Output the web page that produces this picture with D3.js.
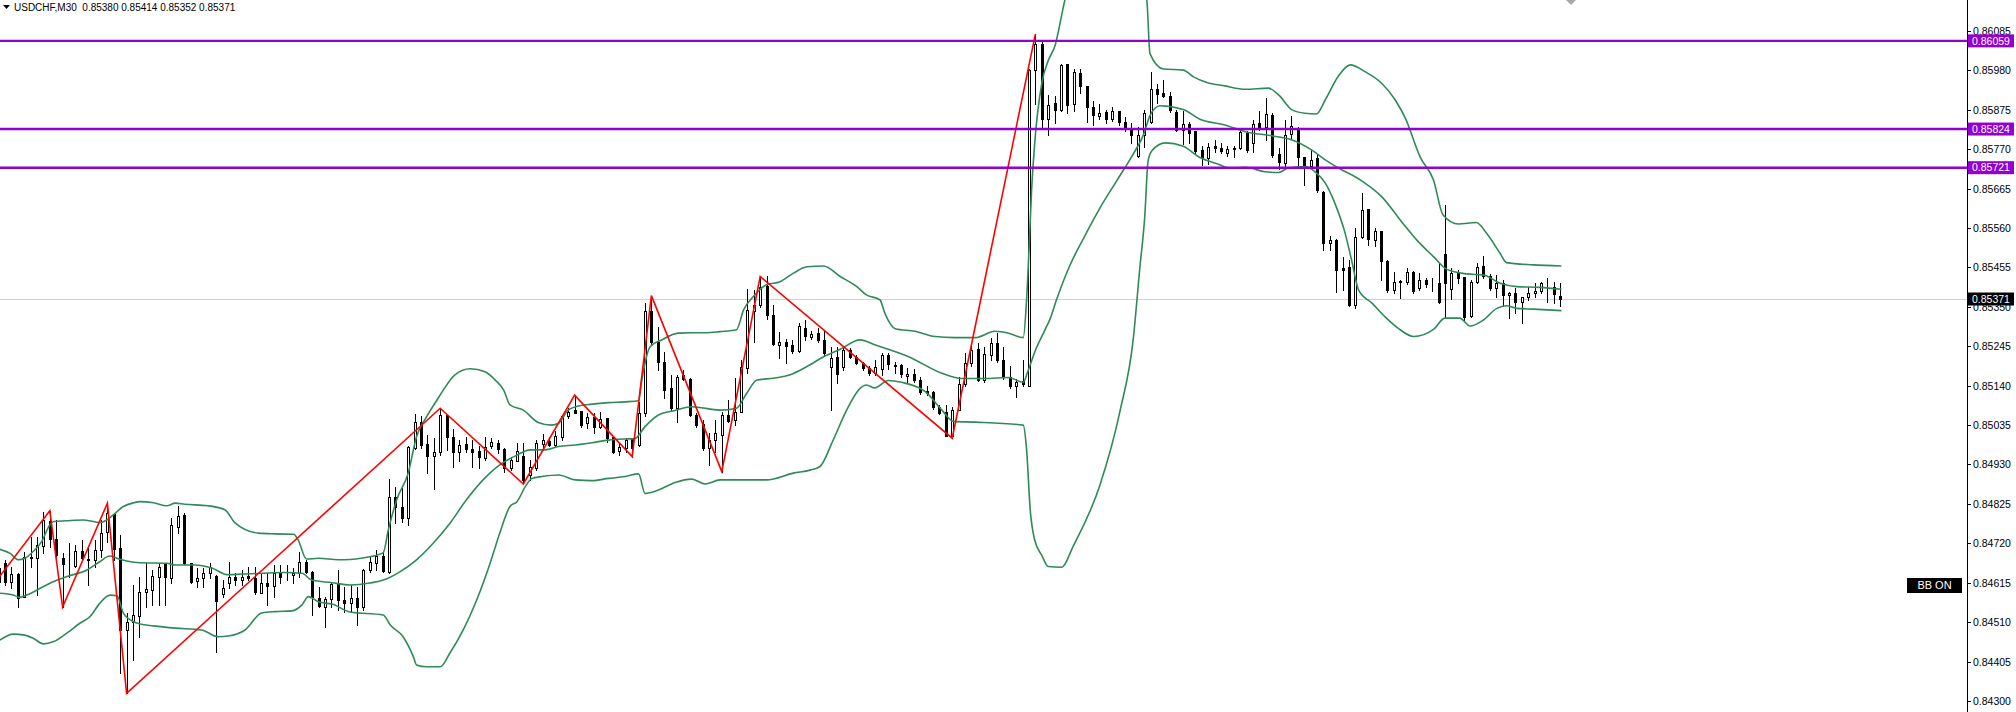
<!DOCTYPE html>
<html><head><meta charset="utf-8">
<script src="https://cdn.jsdelivr.net/npm/d3@7"></script>
<style>html,body{margin:0;padding:0;background:#fff;overflow:hidden}</style>
</head><body>
<svg id="chart" width="2016" height="712"></svg>
<script>
// ---------------- data ----------------
const symbolTitle = "USDCHF,M30";
const lastQuote = ["0.85380", "0.85414", "0.85352", "0.85371"];
const currentPrice = 0.85371;
const levels = [0.86059, 0.85824, 0.85721];
const tickLabels = ["0.86085","0.85980","0.85875","0.85770","0.85665","0.85560","0.85455","0.85350","0.85245","0.85140","0.85035","0.84930","0.84825","0.84720","0.84615","0.84510","0.84405","0.84300"];

const open = [
0.84617,0.84668,0.84618,0.84638,0.84578,0.84681,0.84680,0.84714,0.84780,0.84731,
0.84680,0.84662,0.84660,0.84700,0.84678,0.84676,0.84702,0.84751,0.84797,0.84707,
0.84489,0.84509,0.84525,0.84590,0.84596,0.84631,0.84665,0.84627,0.84764,0.84796,
0.84667,0.84620,0.84627,0.84640,0.84633,0.84584,0.84614,0.84631,0.84622,0.84633,
0.84628,0.84588,0.84615,0.84606,0.84640,0.84638,0.84636,0.84642,0.84671,0.84644,
0.84575,0.84551,0.84571,0.84611,0.84569,0.84560,0.84574,0.84551,0.84649,0.84668,
0.84686,0.84644,0.84843,0.84818,0.84787,0.84973,0.85044,0.84984,0.84953,0.84963,
0.85062,0.85004,0.84962,0.84985,0.84972,0.84967,0.84948,0.84978,0.84987,0.84971,
0.84920,0.84940,0.84953,0.84902,0.84920,0.84985,0.84993,0.84982,0.85004,0.85058,
0.85075,0.85073,0.85040,0.85056,0.85031,0.85053,0.85002,0.84967,0.84973,0.84997,
0.84982,0.85067,0.85340,0.85257,0.85204,0.85133,0.85080,0.85169,0.85157,0.85062,
0.85038,0.84973,0.84995,0.85009,0.85062,0.85049,0.85071,0.85187,0.85340,0.85355,
0.85406,0.85329,0.85249,0.85257,0.85249,0.85233,0.85293,0.85271,0.85280,0.85262,
0.85189,0.85216,0.85189,0.85235,0.85216,0.85200,0.85188,0.85173,0.85184,0.85223,
0.85194,0.85195,0.85166,0.85172,0.85156,0.85126,0.85124,0.85084,0.85070,0.85007,
0.85076,0.85144,0.85201,0.85238,0.85154,0.85223,0.85255,0.85208,0.85164,0.85139,
0.85152,0.85139,0.85981,0.86050,0.85852,0.85893,0.85876,0.85996,0.85891,0.85973,
0.85938,0.85883,0.85858,0.85869,0.85852,0.85871,0.85842,0.85828,0.85753,0.85807,
0.85842,0.85932,0.85920,0.85912,0.85869,0.85822,0.85838,0.85818,0.85768,0.85748,
0.85780,0.85773,0.85760,0.85772,0.85773,0.85814,0.85788,0.85839,0.85830,0.85862,
0.85758,0.85734,0.85811,0.85826,0.85749,0.85726,0.85746,0.85657,0.85521,0.85528,
0.85453,0.85456,0.85355,0.85537,0.85610,0.85528,0.85551,0.85471,0.85395,0.85418,
0.85417,0.85444,0.85400,0.85422,0.85415,0.85415,0.85491,0.85397,0.85441,0.85429,
0.85326,0.85417,0.85459,0.85432,0.85400,0.85413,0.85382,0.85386,0.85364,0.85376,
0.85386,0.85393,0.85410,0.85404,0.85380];

const high = [
0.84676,0.84676,0.84658,0.84640,0.84698,0.84738,0.84738,0.84804,0.84807,0.84782,
0.84694,0.84720,0.84716,0.84729,0.84711,0.84729,0.84782,0.84827,0.84802,0.84742,
0.84534,0.84609,0.84631,0.84667,0.84649,0.84667,0.84667,0.84787,0.84820,0.84800,
0.84667,0.84654,0.84654,0.84667,0.84635,0.84622,0.84670,0.84640,0.84649,0.84658,
0.84658,0.84640,0.84640,0.84662,0.84662,0.84662,0.84654,0.84698,0.84676,0.84646,
0.84604,0.84576,0.84618,0.84649,0.84604,0.84609,0.84604,0.84651,0.84684,0.84702,
0.84698,0.84891,0.84869,0.84867,0.84978,0.85065,0.85058,0.85009,0.85000,0.85080,
0.85065,0.85024,0.84995,0.85003,0.84995,0.84978,0.85003,0.85000,0.84995,0.84973,
0.84947,0.84987,0.84987,0.84942,0.84995,0.85011,0.85004,0.85018,0.85062,0.85080,
0.85115,0.85073,0.85067,0.85067,0.85071,0.85055,0.85004,0.84987,0.85000,0.85000,
0.85097,0.85360,0.85380,0.85297,0.85231,0.85169,0.85169,0.85182,0.85160,0.85067,
0.85049,0.85013,0.85049,0.85071,0.85102,0.85160,0.85209,0.85397,0.85395,0.85431,
0.85432,0.85355,0.85284,0.85264,0.85262,0.85306,0.85315,0.85287,0.85293,0.85289,
0.85244,0.85244,0.85242,0.85240,0.85222,0.85204,0.85193,0.85209,0.85228,0.85228,
0.85203,0.85198,0.85188,0.85184,0.85164,0.85139,0.85126,0.85089,0.85089,0.85084,
0.85164,0.85228,0.85253,0.85253,0.85243,0.85268,0.85280,0.85243,0.85193,0.85159,
0.85208,0.85983,0.86077,0.86055,0.85916,0.85912,0.85996,0.85998,0.85984,0.85985,
0.85940,0.85899,0.85891,0.85876,0.85883,0.85873,0.85855,0.85840,0.85830,0.85876,
0.85975,0.85943,0.85955,0.85922,0.85876,0.85873,0.85842,0.85819,0.85780,0.85787,
0.85794,0.85787,0.85778,0.85779,0.85820,0.85820,0.85848,0.85873,0.85906,0.85868,
0.85773,0.85848,0.85859,0.85830,0.85750,0.85768,0.85755,0.85659,0.85539,0.85530,
0.85484,0.85475,0.85560,0.85654,0.85612,0.85560,0.85553,0.85475,0.85444,0.85422,
0.85453,0.85447,0.85440,0.85426,0.85426,0.85466,0.85622,0.85453,0.85448,0.85431,
0.85422,0.85466,0.85486,0.85438,0.85435,0.85422,0.85391,0.85400,0.85377,0.85404,
0.85413,0.85417,0.85426,0.85417,0.85414];

const low = [
0.84596,0.84609,0.84600,0.84549,0.84576,0.84658,0.84582,0.84694,0.84711,0.84684,
0.84550,0.84631,0.84657,0.84676,0.84609,0.84658,0.84684,0.84724,0.84676,0.84374,
0.84320,0.84409,0.84471,0.84551,0.84556,0.84556,0.84556,0.84614,0.84747,0.84665,
0.84615,0.84603,0.84603,0.84627,0.84430,0.84578,0.84600,0.84609,0.84609,0.84622,
0.84585,0.84587,0.84556,0.84578,0.84614,0.84622,0.84614,0.84631,0.84640,0.84529,
0.84551,0.84498,0.84551,0.84542,0.84538,0.84538,0.84502,0.84542,0.84644,0.84649,
0.84644,0.84640,0.84773,0.84778,0.84769,0.84971,0.84973,0.84908,0.84864,0.84955,
0.84969,0.84924,0.84938,0.84964,0.84924,0.84920,0.84942,0.84973,0.84960,0.84911,
0.84915,0.84938,0.84878,0.84889,0.84915,0.84969,0.84980,0.84978,0.84995,0.85053,
0.85067,0.85031,0.85027,0.85013,0.85027,0.84991,0.84960,0.84955,0.84964,0.84951,
0.84978,0.85060,0.85249,0.85182,0.85107,0.85075,0.85044,0.85155,0.85058,0.85031,
0.84969,0.84929,0.84964,0.84911,0.85044,0.85035,0.85069,0.85173,0.85257,0.85351,
0.85317,0.85249,0.85213,0.85200,0.85226,0.85231,0.85262,0.85264,0.85257,0.85222,
0.85075,0.85147,0.85182,0.85213,0.85198,0.85182,0.85169,0.85169,0.85169,0.85184,
0.85173,0.85164,0.85149,0.85149,0.85119,0.85114,0.85079,0.85065,0.85005,0.85000,
0.85075,0.85139,0.85193,0.85152,0.85149,0.85208,0.85203,0.85159,0.85134,0.85109,
0.85139,0.85139,0.85892,0.85827,0.85808,0.85840,0.85871,0.85866,0.85871,0.85920,
0.85842,0.85835,0.85850,0.85840,0.85845,0.85835,0.85819,0.85787,0.85750,0.85777,
0.85840,0.85893,0.85910,0.85869,0.85819,0.85784,0.85787,0.85758,0.85727,0.85732,
0.85763,0.85760,0.85753,0.85750,0.85770,0.85764,0.85764,0.85822,0.85795,0.85750,
0.85717,0.85720,0.85799,0.85724,0.85675,0.85720,0.85657,0.85502,0.85502,0.85391,
0.85395,0.85353,0.85346,0.85533,0.85515,0.85511,0.85422,0.85391,0.85386,0.85373,
0.85411,0.85386,0.85395,0.85404,0.85393,0.85360,0.85320,0.85370,0.85413,0.85315,
0.85324,0.85413,0.85426,0.85395,0.85377,0.85355,0.85320,0.85333,0.85306,0.85369,
0.85377,0.85386,0.85364,0.85360,0.85352];

const close = [
0.84654,0.84618,0.84638,0.84574,0.84684,0.84684,0.84716,0.84782,0.84731,0.84689,
0.84664,0.84661,0.84700,0.84682,0.84676,0.84702,0.84747,0.84800,0.84705,0.84489,
0.84509,0.84529,0.84590,0.84598,0.84633,0.84658,0.84631,0.84769,0.84793,0.84667,
0.84618,0.84628,0.84642,0.84658,0.84566,0.84600,0.84631,0.84622,0.84631,0.84628,
0.84591,0.84615,0.84606,0.84640,0.84631,0.84637,0.84642,0.84671,0.84644,0.84576,
0.84553,0.84571,0.84611,0.84569,0.84560,0.84574,0.84551,0.84649,0.84671,0.84686,
0.84647,0.84843,0.84818,0.84787,0.84976,0.85044,0.84982,0.84953,0.84962,0.85062,
0.85004,0.84962,0.84982,0.84971,0.84964,0.84951,0.84976,0.84989,0.84971,0.84920,
0.84942,0.84967,0.84889,0.84923,0.84987,0.84995,0.84982,0.85006,0.85058,0.85071,
0.85068,0.85035,0.85056,0.85031,0.85051,0.85000,0.84964,0.84976,0.84995,0.84973,
0.85067,0.85340,0.85257,0.85204,0.85129,0.85080,0.85164,0.85157,0.85062,0.85035,
0.84973,0.84995,0.85013,0.85062,0.85047,0.85071,0.85191,0.85342,0.85355,0.85404,
0.85329,0.85251,0.85257,0.85246,0.85233,0.85300,0.85273,0.85278,0.85262,0.85228,
0.85215,0.85171,0.85235,0.85217,0.85201,0.85187,0.85175,0.85189,0.85223,0.85198,
0.85193,0.85172,0.85172,0.85156,0.85124,0.85121,0.85084,0.85067,0.85007,0.85076,
0.85144,0.85201,0.85235,0.85154,0.85225,0.85255,0.85208,0.85162,0.85139,0.85149,
0.85144,0.85981,0.86050,0.85852,0.85889,0.85876,0.85994,0.85889,0.85975,0.85938,
0.85883,0.85861,0.85866,0.85852,0.85871,0.85842,0.85828,0.85809,0.85809,0.85868,
0.85930,0.85917,0.85912,0.85876,0.85822,0.85838,0.85814,0.85766,0.85748,0.85777,
0.85773,0.85766,0.85770,0.85774,0.85817,0.85768,0.85838,0.85830,0.85863,0.85755,
0.85737,0.85808,0.85832,0.85749,0.85726,0.85742,0.85662,0.85521,0.85528,0.85448,
0.85448,0.85355,0.85537,0.85607,0.85530,0.85551,0.85471,0.85395,0.85417,0.85416,
0.85444,0.85393,0.85422,0.85411,0.85414,0.85364,0.85415,0.85441,0.85426,0.85324,
0.85417,0.85456,0.85432,0.85400,0.85415,0.85382,0.85388,0.85364,0.85376,0.85388,
0.85393,0.85413,0.85412,0.85385,0.85371];

// Bollinger bands (multi-timeframe): [bar position, price]
const upperBand = [[0.2,0.84704],[1.8,0.84693],[3.1,0.84676],[4.1,0.84680],[5.4,0.84698],[6.7,0.84724],[8.0,0.84769],[8.6,0.84778],[10.6,0.84780],[13.2,0.84782],[14.8,0.84778],[15.8,0.84775],[16.9,0.84782],[18.2,0.84800],[19.5,0.84818],[21.1,0.84828],[22.1,0.84831],[24.2,0.84828],[26.3,0.84820],[27.6,0.84827],[29.1,0.84824],[32.7,0.84820],[35.4,0.84809],[36.9,0.84775],[40.6,0.84747],[43.2,0.84745],[46.1,0.84744],[46.8,0.84729],[48.1,0.84678],[50.0,0.84680],[53.1,0.84676],[54.9,0.84677],[58.0,0.84684],[60.1,0.84695],[60.9,0.84756],[62.2,0.84836],[64.0,0.84907],[65.3,0.85004],[66.9,0.85058],[68.5,0.85102],[69.5,0.85129],[71.3,0.85169],[73.7,0.85185],[76.0,0.85177],[77.6,0.85155],[78.9,0.85129],[79.9,0.85089],[82.0,0.85075],[84.3,0.85042],[86.4,0.85035],[87.5,0.85040],[89.0,0.85075],[90.6,0.85086],[92.7,0.85091],[95.3,0.85095],[97.9,0.85097],[100.0,0.85100],[100.5,0.85155],[101.8,0.85244],[103.6,0.85262],[106.2,0.85280],[108.3,0.85281],[110.4,0.85281],[112.7,0.85284],[115.3,0.85289],[116.4,0.85342],[117.9,0.85377],[120.0,0.85409],[122.1,0.85417],[124.2,0.85440],[126.3,0.85457],[128.9,0.85459],[131.5,0.85431],[134.1,0.85404],[135.6,0.85382],[137.7,0.85369],[138.5,0.85332],[140.1,0.85292],[143.2,0.85285],[146.3,0.85271],[149.4,0.85268],[152.6,0.85268],[155.7,0.85285],[157.8,0.85280],[160.1,0.85268],[160.6,0.85362],[161.0,0.85502],[161.4,0.85659],[161.9,0.85788],[163.0,0.85946],[164.0,0.86006],[165.1,0.86048],[166.1,0.86127],[166.6,0.86168],[169.0,0.86275],[172.1,0.86328],[175.2,0.86301],[178.3,0.86221],[179.4,0.86168],[179.9,0.86025],[182.0,0.85984],[185.1,0.85981],[186.7,0.85963],[188.8,0.85948],[191.6,0.85939],[194.8,0.85930],[198.4,0.85933],[200.0,0.85915],[202.1,0.85875],[204.1,0.85866],[205.9,0.85864],[207.3,0.85902],[209.3,0.85964],[211.2,0.85995],[213.5,0.85977],[216.1,0.85946],[218.2,0.85902],[219.8,0.85853],[222.1,0.85750],[224.2,0.85688],[225.7,0.85595],[228.1,0.85571],[230.9,0.85575],[232.5,0.85546],[234.6,0.85493],[235.6,0.85468],[239.8,0.85462],[244.2,0.85459]];

const middleBand = [[0.2,0.84587],[2.3,0.84582],[3.3,0.84576],[4.4,0.84582],[6.5,0.84600],[8.6,0.84618],[10.6,0.84631],[13.8,0.84649],[15.8,0.84671],[17.4,0.84686],[18.5,0.84680],[20.0,0.84673],[22.1,0.84668],[26.3,0.84667],[27.6,0.84662],[30.7,0.84662],[33.3,0.84654],[35.9,0.84636],[38.0,0.84638],[41.1,0.84640],[44.8,0.84642],[47.4,0.84640],[48.9,0.84622],[52.1,0.84615],[54.9,0.84609],[58.0,0.84614],[60.1,0.84622],[62.7,0.84644],[65.3,0.84676],[67.9,0.84720],[70.5,0.84773],[73.1,0.84836],[75.7,0.84889],[78.3,0.84929],[81.0,0.84955],[83.0,0.84969],[85.4,0.84969],[87.5,0.84978],[90.1,0.84982],[92.7,0.84988],[95.3,0.84995],[97.9,0.84998],[99.4,0.84999],[101.0,0.85031],[103.1,0.85062],[105.7,0.85074],[108.3,0.85084],[112.7,0.85075],[115.3,0.85080],[116.9,0.85120],[118.5,0.85155],[121.1,0.85160],[123.7,0.85169],[126.3,0.85191],[128.9,0.85217],[131.5,0.85237],[134.6,0.85262],[136.9,0.85249],[142.1,0.85218],[147.4,0.85173],[150.5,0.85159],[154.1,0.85159],[157.8,0.85162],[160.1,0.85149],[160.8,0.85177],[161.9,0.85230],[163.5,0.85289],[164.3,0.85318],[165.3,0.85369],[167.4,0.85461],[169.5,0.85532],[172.1,0.85614],[174.7,0.85686],[177.3,0.85758],[178.9,0.85809],[179.9,0.85860],[181.5,0.85886],[185.1,0.85876],[187.7,0.85850],[191.6,0.85835],[194.8,0.85817],[198.9,0.85806],[202.1,0.85795],[205.2,0.85768],[207.3,0.85742],[209.9,0.85715],[211.4,0.85702],[213.5,0.85680],[216.1,0.85644],[219.3,0.85575],[221.6,0.85528],[224.2,0.85484],[226.3,0.85450],[229.4,0.85438],[232.0,0.85435],[234.6,0.85413],[237.2,0.85404],[240.8,0.85402],[244.2,0.85397]];

const lowerBand = [[0.2,0.84462],[2.3,0.84478],[3.9,0.84476],[5.4,0.84467],[7.0,0.84452],[8.6,0.84458],[10.6,0.84480],[12.7,0.84507],[14.3,0.84525],[15.8,0.84560],[17.4,0.84582],[18.5,0.84580],[19.5,0.84534],[21.1,0.84511],[22.1,0.84505],[24.2,0.84500],[27.6,0.84494],[31.7,0.84489],[34.3,0.84471],[35.9,0.84473],[38.5,0.84489],[41.1,0.84534],[43.2,0.84538],[45.8,0.84540],[47.4,0.84556],[48.4,0.84578],[50.0,0.84564],[52.1,0.84558],[54.9,0.84537],[60.1,0.84529],[61.2,0.84502],[63.2,0.84471],[64.8,0.84418],[65.3,0.84396],[66.9,0.84391],[69.0,0.84391],[70.5,0.84427],[72.6,0.84489],[74.7,0.84569],[76.8,0.84667],[78.3,0.84747],[79.9,0.84818],[81.0,0.84831],[82.3,0.84871],[83.3,0.84893],[84.9,0.84898],[87.5,0.84902],[90.1,0.84889],[92.7,0.84887],[95.3,0.84893],[97.9,0.84898],[100.0,0.84905],[101.0,0.84853],[103.1,0.84862],[105.7,0.84882],[108.3,0.84891],[110.4,0.84878],[112.7,0.84889],[115.8,0.84889],[120.0,0.84889],[124.2,0.84907],[126.8,0.84915],[128.3,0.84924],[130.4,0.84995],[132.5,0.85075],[134.6,0.85133],[135.6,0.85142],[136.9,0.85134],[139.0,0.85154],[141.1,0.85149],[144.8,0.85124],[147.4,0.85075],[149.2,0.85045],[152.6,0.85043],[160.1,0.85035],[160.6,0.84975],[161.2,0.84807],[161.9,0.84728],[163.0,0.84688],[164.0,0.84658],[166.1,0.84656],[167.9,0.84712],[172.1,0.84876],[175.2,0.85071],[177.3,0.85266],[178.3,0.85451],[179.1,0.85594],[179.6,0.85738],[180.2,0.85766],[182.3,0.85787],[185.1,0.85778],[187.7,0.85748],[190.3,0.85732],[192.4,0.85720],[194.8,0.85722],[197.9,0.85710],[200.0,0.85708],[201.5,0.85720],[204.1,0.85724],[205.7,0.85710],[207.3,0.85680],[208.8,0.85626],[210.4,0.85546],[211.4,0.85475],[212.5,0.85395],[214.6,0.85360],[216.6,0.85324],[218.7,0.85293],[221.1,0.85271],[224.2,0.85290],[226.0,0.85320],[228.3,0.85320],[229.9,0.85299],[232.0,0.85315],[234.1,0.85346],[235.6,0.85353],[237.2,0.85346],[239.8,0.85344],[244.2,0.85340]];

// ZigZag vertices
const zigzagIdx = [0, 8, 10, 17, 20, 69, 82, 90, 99, 102, 113, 119, 149, 162];
const zigzagPrice = [0.84628, 0.84807, 0.84550, 0.84827, 0.84320, 0.85080, 0.84878, 0.85115, 0.84951, 0.85380, 0.84911, 0.85431, 0.85000, 0.86077];

// ---------------- drawing ----------------
const W = 2016, H = 712, axisX = 1967;
const FONT = "'Liberation Sans', Arial, sans-serif";
const svg = d3.select('#chart');
const x = d3.scaleLinear().domain([0, 244]).range([-1.4, 1560.2]);
const y = d3.scaleLinear().domain([0.84300, 0.86085]).range([700.9, 31.1]);

svg.append('rect').attr('width', W).attr('height', H).attr('fill', '#fff');
svg.append('defs').append('clipPath').attr('id', 'plot')
  .append('rect').attr('x', 0).attr('y', 0).attr('width', axisX).attr('height', H);
const plot = svg.append('g').attr('clip-path', 'url(#plot)');

// bid line
const yCur = Math.round(y(currentPrice)) + 0.5;
plot.append('line').attr('x1', 0).attr('x2', axisX).attr('y1', yCur).attr('y2', yCur)
  .attr('stroke', '#d0d0d0').attr('stroke-width', 1);

// candles
const bars = d3.range(open.length).map(i => ({i, o: open[i], h: high[i], l: low[i], c: close[i]}));
const cg = plot.append('g').attr('shape-rendering', 'crispEdges');
cg.selectAll('line.wick').data(bars).join('line').attr('class', 'wick')
  .attr('x1', d => Math.round(x(d.i)) + 0.5).attr('x2', d => Math.round(x(d.i)) + 0.5)
  .attr('y1', d => Math.round(y(d.h))).attr('y2', d => Math.round(y(d.l)) + 1)
  .attr('stroke', '#000').attr('stroke-width', 1);
cg.selectAll('rect.body').data(bars).join('rect').attr('class', 'body')
  .attr('x', d => Math.round(x(d.i)) - 0.5)
  .attr('y', d => Math.min(Math.round(y(d.o)), Math.round(y(d.c))) + 0.5)
  .attr('width', 2)
  .attr('height', d => Math.abs(Math.round(y(d.o)) - Math.round(y(d.c))))
  .attr('fill', d => d.c >= d.o ? '#fff' : '#000')
  .attr('stroke', '#000').attr('stroke-width', 1);

// bands
const bandLine = d3.line().x(d => x(d[0])).y(d => y(d[1])).curve(d3.curveMonotoneX);
[upperBand, middleBand, lowerBand].forEach(b => {
  plot.append('path').attr('d', bandLine(b)).attr('fill', 'none')
    .attr('stroke', '#2e8b57').attr('stroke-width', 1.6);
});

// zigzag
const zz = zigzagIdx.map((k, j) => [k, zigzagPrice[j]]);
plot.append('path').attr('d', d3.line().x(d => x(d[0])).y(d => y(d[1]))(zz))
  .attr('fill', 'none').attr('stroke', '#ff0000').attr('stroke-width', 1.6);

// horizontal levels
levels.forEach(p => {
  const yy = y(p);
  plot.append('line').attr('x1', 0).attr('x2', axisX).attr('y1', yy).attr('y2', yy)
    .attr('stroke', '#9400d3').attr('stroke-width', 2.4);
});

// price axis
const ax = svg.append('g');
ax.append('line').attr('x1', axisX + 0.5).attr('x2', axisX + 0.5).attr('y1', 0).attr('y2', H)
  .attr('stroke', '#000').attr('stroke-width', 1).attr('shape-rendering', 'crispEdges');
tickLabels.forEach(t => {
  const yy = Math.round(y(+t)) + 0.5;
  ax.append('line').attr('x1', axisX + 1).attr('x2', axisX + 4).attr('y1', yy).attr('y2', yy)
    .attr('stroke', '#000').attr('shape-rendering', 'crispEdges');
  ax.append('text').attr('x', axisX + 6).attr('y', yy).attr('dy', '0.35em')
    .attr('font-family', FONT).attr('font-size', 10.5).attr('fill', '#000').text(t);
});

function priceTag(p, txt, bg) {
  const yy = y(p);
  ax.append('rect').attr('x', axisX + 1).attr('y', yy - 6.5).attr('width', 46).attr('height', 13)
    .attr('fill', bg);
  ax.append('text').attr('x', axisX + 5).attr('y', yy).attr('dy', '0.36em')
    .attr('font-family', FONT).attr('font-size', 10.5).attr('fill', '#fff').text(txt);
}
levels.forEach(p => priceTag(p, p.toFixed(5), '#9400d3'));
priceTag(currentPrice, currentPrice.toFixed(5), '#000');

// title
svg.append('path').attr('d', 'M3,5 L10,5 L6.5,9 Z').attr('fill', '#000');
svg.append('text').attr('x', 14).attr('y', 7).attr('dy', '0.35em')
  .attr('font-family', FONT).attr('font-size', 10).attr('fill', '#000')
  .attr('xml:space', 'preserve')
  .text(symbolTitle + '  ' + lastQuote.join(' '));

// chart shift marker
svg.append('path').attr('d', 'M1566,0 L1576,0 L1571,5 Z').attr('fill', '#a8a8a8');

// BB ON button
svg.append('rect').attr('x', 1907).attr('y', 578).attr('width', 55).attr('height', 15).attr('fill', '#000');
svg.append('text').attr('x', 1934.5).attr('y', 585.5).attr('dy', '0.35em').attr('text-anchor', 'middle')
  .attr('font-family', FONT).attr('font-size', 11).attr('fill', '#fff').text('BB ON');
</script>
</body></html>
